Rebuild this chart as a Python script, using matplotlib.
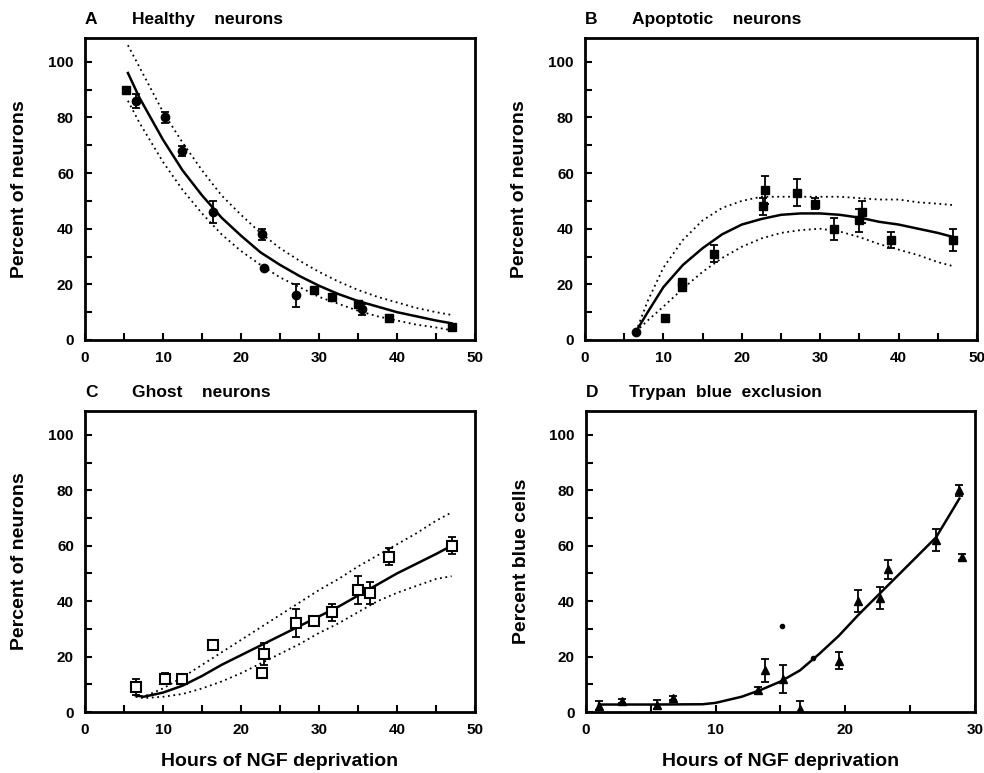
import numpy as np
import matplotlib.pyplot as plt
from matplotlib.ticker import MultipleLocator

plt.rcParams['font.family'] = ['Liberation Sans', 'DejaVu Sans']
plt.rcParams['font.weight'] = 'bold'

# ---- A: healthy neurons ----
a_sq_x = [5.3, 29.3, 31.7, 35.0, 39.0, 47.0]
a_sq_y = [90, 18, 15.5, 13, 8, 4.5]
a_ci_x = [6.5, 10.2, 12.4, 16.4, 22.7, 23.0, 27.0, 35.5]
a_ci_y = [86, 80, 68, 46, 38, 26, 16, 11]
a_ci_e = [2.5, 2, 1.8, 4, 2, 0, 4, 2]
a_fit_x = [5.5, 7, 10, 12.5, 15, 17.5, 20, 22.5, 25, 27.5, 30, 32.5, 35, 37.5, 40, 42.5, 45, 47]
a_fit = [96, 87, 72, 61, 52, 44, 37.5, 31.5, 27, 23, 19.5, 16.5, 14, 12, 10, 8.5, 7, 6]
a_hi = [106, 98, 82, 71, 61, 52, 45, 38.5, 33, 28.5, 24.5, 21, 18, 15.5, 13.5, 11.5, 10, 9]
a_lo = [86, 78, 64, 54, 45.5, 38, 32, 27, 22.5, 19, 15.5, 13, 10.5, 8.5, 7, 5.5, 4.5, 3.5]

# ---- B: apoptotic neurons ----
b_sq_x = [10.2, 12.4, 12.4, 16.4, 22.7, 23.0, 27.0, 29.3, 31.7, 35.0, 35.3, 39.0, 47.0]
b_sq_y = [8, 21, 19, 31, 48, 54, 53, 49, 40, 43, 46, 36, 36]
b_sq_e = [0, 0, 0, 3, 3, 5, 5, 2, 4, 4, 4, 3, 4]
b_ci_x = [6.5]
b_ci_y = [3]
b_fit_x = [6.5, 8, 10, 12.5, 15, 17.5, 20, 22.5, 25, 27.5, 30, 32.5, 35, 37.5, 40, 42.5, 45, 47]
b_fit = [3, 10, 19, 27, 33, 38, 41.5, 43.5, 45, 45.5, 45.5, 45, 44, 42.5, 41.5, 40, 38.5, 37]
b_hi = [3, 14, 26, 36, 43, 47.5, 50, 51.5, 51.5, 51.5, 51.5, 51.5, 51, 50.5, 50.5, 49.5, 49, 48.5]
b_lo = [3, 7, 12, 18.5, 24.5, 29.5, 33.5, 36.5, 38.5, 39.5, 40, 39, 37, 34.5, 32.5, 30.5, 28, 26.5]

# ---- C: ghost neurons ----
c_x = [6.5, 10.2, 12.4, 16.4, 22.7, 23.0, 27.0, 29.3, 31.7, 35.0, 36.5, 39.0, 47.0]
c_y = [9, 12, 12, 24, 14, 21, 32, 33, 36, 44, 43, 56, 60]
c_e = [3, 2, 1.5, 1.5, 1.5, 4, 5, 1, 3, 5, 4, 3, 3]
c_fit_x = [6.5, 7.5, 10, 12.5, 15, 17.5, 20, 22.5, 25, 27.5, 30, 32.5, 35, 37.5, 40, 42.5, 45, 47]
c_fit = [6, 5.5, 7, 9.5, 13, 17, 20.5, 24, 27.5, 31, 34.5, 38, 42, 46, 50, 53.5, 57, 60]
c_hi = [6, 5.5, 8.5, 12.5, 17, 21.5, 26, 30.5, 35, 39.5, 44, 48, 52.5, 56.5, 60.5, 64.5, 69, 72]
c_lo = [5.5, 5, 5.5, 6.5, 8.5, 11, 14, 17.5, 21, 24.5, 28.5, 32, 36, 40, 43, 45.5, 48, 49]

# ---- D: trypan blue exclusion ----
d_x = [1.0, 2.8, 5.5, 6.7, 13.3, 13.8, 15.2, 16.5, 19.5, 21.0, 22.7, 23.3, 27.0, 28.8, 29.0]
d_y = [2.3, 4, 2.7, 5, 8, 15, 12, 1, 18.5, 40, 41, 51.5, 62, 80, 56]
d_e = [1.5, 0.8, 1.5, 0.8, 1, 4, 5, 3, 3, 4, 4, 3.5, 4, 2, 1]
d_stray_x = [15.1, 17.5]
d_stray_y = [31, 19.5]
d_fit_x = [1, 5, 9, 10, 12, 13.5, 15, 16.5, 18, 19.5, 21, 22.5, 24, 25.5, 27, 28.8]
d_fit = [2.7, 2.7, 2.8, 3.3, 5.5, 8, 11, 15, 21, 27.5, 35, 42, 49, 56, 63, 77]

fig = plt.figure(figsize=(9.84, 7.73), dpi=100)
axA = fig.add_axes([0.0864, 0.5602, 0.3963, 0.3907])
axB = fig.add_axes([0.5945, 0.5602, 0.3984, 0.3907])
axC = fig.add_axes([0.0864, 0.0789, 0.3963, 0.3894])
axD = fig.add_axes([0.5955, 0.0789, 0.3953, 0.3894])

eb = dict(fmt='none', ecolor='black', elinewidth=1.3, capsize=3, capthick=1.3)


def style(ax, xmax, ylab, xlab=None):
    ax.set_xlim(0, xmax)
    ax.set_ylim(0, 108.6)
    ax.xaxis.set_major_locator(MultipleLocator(10))
    ax.xaxis.set_minor_locator(MultipleLocator(5))
    ax.yaxis.set_major_locator(MultipleLocator(20))
    ax.yaxis.set_minor_locator(MultipleLocator(10))
    ax.tick_params(which='both', direction='in', length=5, width=1.5,
                   top=False, right=False, labelsize=11, pad=8)
    for s in ax.spines.values():
        s.set_linewidth(2)
    for lab in ax.get_xticklabels() + ax.get_yticklabels():
        lab.set_fontweight('bold')
    ax.set_ylabel(ylab, fontsize=14, fontweight='bold')
    ax.yaxis.set_label_coords(-0.145, 0.5)
    if xlab:
        ax.set_xlabel(xlab, fontsize=14, fontweight='bold')
        ax.xaxis.set_label_coords(0.5, -0.135)


def title(ax, letter, name, xname):
    ax.text(0, 1.035, letter, transform=ax.transAxes, fontsize=12.5,
            fontweight='bold', va='bottom')
    ax.text(xname, 1.035, name, transform=ax.transAxes, fontsize=12.5,
            fontweight='bold', va='bottom')


# A
axA.plot(a_fit_x, a_fit, color='black', lw=1.8)
axA.plot(a_fit_x, a_hi, color='black', lw=1.3, ls=(0, (1, 2)))
axA.plot(a_fit_x, a_lo, color='black', lw=1.3, ls=(0, (1, 2)))
axA.errorbar(a_ci_x, a_ci_y, yerr=a_ci_e, **eb)
axA.plot(a_ci_x, a_ci_y, 'o', color='black', ms=6)
axA.plot(a_sq_x, a_sq_y, 's', color='black', ms=6)
style(axA, 50, 'Percent of neurons')
title(axA, 'A', 'Healthy    neurons', 0.12)

# B
axB.plot(b_fit_x, b_fit, color='black', lw=1.8)
axB.plot(b_fit_x, b_hi, color='black', lw=1.3, ls=(0, (1, 2)))
axB.plot(b_fit_x, b_lo, color='black', lw=1.3, ls=(0, (1, 2)))
axB.errorbar(b_sq_x, b_sq_y, yerr=b_sq_e, **eb)
axB.plot(b_sq_x, b_sq_y, 's', color='black', ms=6)
axB.plot(b_ci_x, b_ci_y, 'o', color='black', ms=6)
style(axB, 50, 'Percent of neurons')
title(axB, 'B', 'Apoptotic    neurons', 0.12)

# C
axC.plot(c_fit_x, c_fit, color='black', lw=1.8)
axC.plot(c_fit_x, c_hi, color='black', lw=1.3, ls=(0, (1, 2)))
axC.plot(c_fit_x, c_lo, color='black', lw=1.3, ls=(0, (1, 2)))
axC.errorbar(c_x, c_y, yerr=c_e, **eb)
axC.plot(c_x, c_y, 's', mfc='white', mec='black', mew=1.5, ms=6.5)
style(axC, 50, 'Percent of neurons', 'Hours of NGF deprivation')
title(axC, 'C', 'Ghost    neurons', 0.12)

# D
axD.plot(d_fit_x, d_fit, color='black', lw=1.8)
axD.errorbar(d_x, d_y, yerr=d_e, **eb)
axD.plot(d_x, d_y, '^', color='black', ms=6)
axD.plot(d_stray_x, d_stray_y, 'o', color='black', ms=3)
style(axD, 30, 'Percent blue cells', 'Hours of NGF deprivation')
title(axD, 'D', 'Trypan  blue  exclusion', 0.11)

fig.savefig('out.png', dpi=100)
